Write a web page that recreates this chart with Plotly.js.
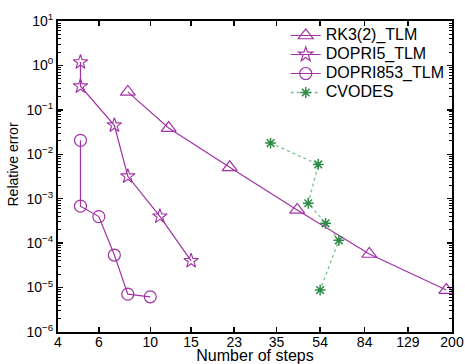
<!DOCTYPE html>
<html>
<head>
<meta charset="utf-8">
<script src="https://cdn.plot.ly/plotly-3.0.1.min.js"></script>
<style>html,body{margin:0;padding:0;background:#fff;}#chart{width:465px;height:364px;}</style>
</head>
<body>
<div id="chart"></div>
<script>
var rk3Steps = [8, 12, 22, 43, 88, 189];
var rk3Err = [0.254, 0.039, 0.0051, 5.6e-4, 5.7e-5, 8.8e-6];
var dopri5Steps = [5, 5, 7, 8, 11, 15];
var dopri5Err = [1.19, 0.34, 0.045, 0.0032, 4.0e-4, 4.0e-5];
var dopri853Steps = [5, 5, 6, 7, 8, 10];
var dopri853Err = [0.0206, 6.8e-4, 3.96e-4, 5.4e-5, 7.1e-6, 6.2e-6];
var cvodesSteps = [33, 53, 48, 57, 65, 54];
var cvodesErr = [0.0179, 0.0059, 7.9e-4, 2.8e-4, 1.16e-4, 8.8e-6];
var seriesNames = ['RK3(2)_TLM', 'DOPRI5_TLM', 'DOPRI853_TLM', 'CVODES'];
var xTickVals = [4, 6, 10, 15, 23, 35, 54, 84, 129, 200];
var xTickText = ['4', '6', '10', '15', '23', '35', '54', '84', '129', '200'];
var yTickVals = [1e-6, 1e-5, 1e-4, 1e-3, 1e-2, 1e-1, 1, 10];
var yTickText = ['10<sup>−6</sup>', '10<sup>−5</sup>', '10<sup>−4</sup>', '10<sup>−3</sup>', '10<sup>−2</sup>', '10<sup>−1</sup>', '10<sup>0</sup>', '10<sup>1</sup>'];
var xTitle = 'Number of steps';
var yTitle = 'Relative error';

var purple = '#a032a5';
var green = '#2e8b45';
var greenLine = '#7cc08e';

function legName(s) { return '<span style="font-size:16px">' + s + '</span>'; }

var traces = [
  {x: rk3Steps, y: rk3Err, name: legName(seriesNames[0]), mode: 'lines+markers',
   line: {color: purple, width: 1.2}, marker: {symbol: 'triangle-up-open', size: 13, color: purple, line: {width: 1.2}}},
  {x: dopri5Steps, y: dopri5Err, name: legName(seriesNames[1]), mode: 'lines+markers',
   line: {color: purple, width: 1.2}, marker: {symbol: 'star-open', size: 11, color: purple, line: {width: 1.1}}},
  {x: dopri853Steps, y: dopri853Err, name: legName(seriesNames[2]), mode: 'lines+markers',
   line: {color: purple, width: 1.2}, marker: {symbol: 'circle-open', size: 12, color: purple, line: {width: 1.2}}},
  {x: cvodesSteps, y: cvodesErr, name: legName(seriesNames[3]), mode: 'lines+markers',
   line: {color: greenLine, width: 1.3, dash: 'dot'}, marker: {symbol: 'asterisk-open', size: 9, color: green, line: {width: 1.5, color: green}}}
];

var fam = 'Liberation Sans, Arial, sans-serif';
var axisFont = {family: fam, size: 14, color: '#000'};
var layout = {
  width: 465, height: 364,
  margin: {l: 58, r: 13, t: 21, b: 32},
  paper_bgcolor: '#fff', plot_bgcolor: '#fff',
  showlegend: true,
  legend: {x: 0.578, y: 1.0, xanchor: 'left', yanchor: 'top', bgcolor: 'rgba(0,0,0,0)',
           font: {family: fam, size: 12.3, color: '#000'},
           tracegroupgap: 0, itemwidth: 30},
  xaxis: {type: 'log', range: [Math.log10(4), Math.log10(200)],
          tickvals: xTickVals, ticktext: xTickText, tickfont: axisFont,
          ticks: 'inside', ticklen: 5, tickcolor: '#000', tickwidth: 1.5,
          ticklabelstandoff: -4,
          showline: true, linecolor: '#000', linewidth: 2, mirror: 'ticks',
          showgrid: false, zeroline: false,
          title: {text: xTitle, font: {family: fam, size: 16, color: '#000'}, standoff: 5}},
  yaxis: {type: 'log', range: [-6, 1],
          tickvals: yTickVals, ticktext: yTickText, tickfont: axisFont,
          ticks: 'inside', ticklen: 5, tickcolor: '#000', tickwidth: 1.5,
          showline: true, linecolor: '#000', linewidth: 2, mirror: 'ticks',
          showgrid: false, zeroline: false,
          minor: {dtick: 'D1', ticks: 'inside', ticklen: 3, tickcolor: '#000', tickwidth: 1, showgrid: false}},
  annotations: [
    {text: yTitle, xref: 'paper', yref: 'paper', x: -0.1117, y: 0.5386, xanchor: 'center', yanchor: 'middle',
     textangle: -90, showarrow: false, font: {family: fam, size: 14, color: '#000'}}
  ]
};

Plotly.newPlot('chart', traces, layout, {displayModeBar: false, staticPlot: true});
</script>
</body>
</html>
